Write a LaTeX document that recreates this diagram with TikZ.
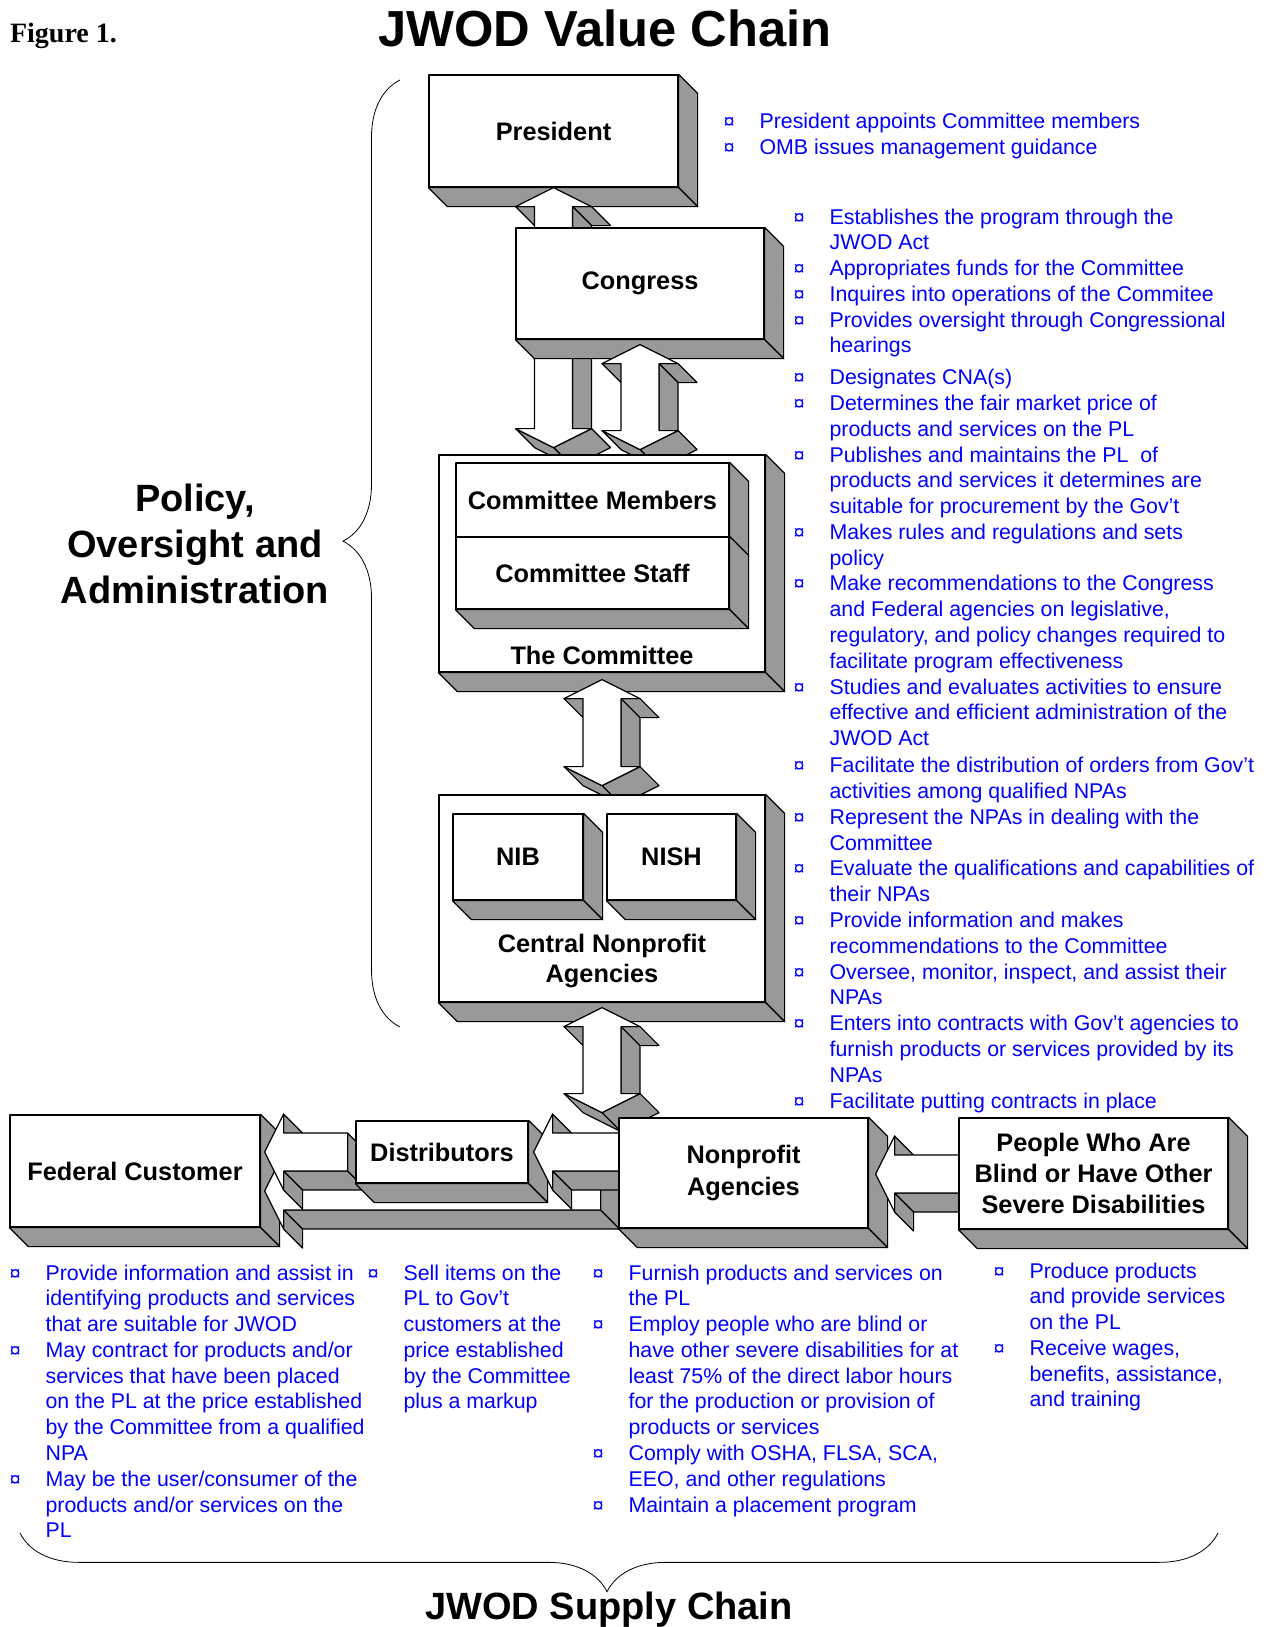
\documentclass[tikz,border=0pt]{standalone}
\usepackage{fontspec}
\setmainfont{Liberation Sans}
\newfontfamily\seriffont{Liberation Serif}
\usetikzlibrary{calc,fit,decorations.pathreplacing}

\definecolor{sidegray}{RGB}{153,153,153}
\definecolor{noteblue}{RGB}{0,0,255}

\tikzstyle{face}=[draw=black,fill=white,line join=round]
\tikzstyle{side}=[draw=black,fill=sidegray,line join=round]
\tikzstyle{box}=[face,inner sep=0pt]
\tikzstyle{boxtext}=[inner sep=0pt,align=center,font=\bfseries\fontsize{19}{22.5}\selectfont]
\tikzstyle{notes}=[inner sep=0pt,anchor=base west,text=noteblue,font=\fontsize{16}{19.34}\selectfont]
\tikzstyle{curly}=[decorate,line width=0.6pt]

% depth of the solid look
\newcommand{\dep}{19}
\newcommand{\bul}{{\fontsize{15}{15}\selectfont ¤}}

% right and bottom faces of a box node
\newcommand{\sides}[1]{%
  \filldraw[side] (#1.north east) -- ++(\dep,\dep) -- ($(#1.south east)+(\dep,\dep)$) -- (#1.south east) -- cycle;
  \filldraw[side] (#1.south west) -- ++(\dep,\dep) -- ($(#1.south east)+(\dep,\dep)$) -- (#1.south east) -- cycle;}

% side faces of a block arrow, one per edge
\newcommand{\facets}[1]{%
  \foreach \p/\q in {#1}
    \filldraw[side] (\p) -- (\q) -- ($(\q)+(\dep,\dep)$) -- ($(\p)+(\dep,\dep)$) -- cycle;}

% block arrows: up, down, both ways, to the left
\newcommand{\arrowup}[2]{%
  \coordinate (u1) at (#1);
  \coordinate (u2) at ($(#1)+(38,19)$);
  \coordinate (u3) at ($(#1)+(19,19)$);
  \coordinate (u4) at ($(#2)+(19,0)$);
  \coordinate (u5) at ($(#2)+(-19,0)$);
  \coordinate (u6) at ($(#1)+(-19,19)$);
  \coordinate (u7) at ($(#1)+(-38,19)$);
  \facets{u2/u3,u3/u4,u4/u5,u6/u7}
  \filldraw[face] (u1) -- (u2) -- (u3) -- (u4) -- (u5) -- (u6) -- (u7) -- cycle;}

\newcommand{\arrowdown}[2]{%
  \coordinate (d1) at ($(#1)+(-19,0)$);
  \coordinate (d2) at ($(#1)+(19,0)$);
  \coordinate (d3) at ($(#2)+(19,-19)$);
  \coordinate (d4) at ($(#2)+(38,-19)$);
  \coordinate (d5) at (#2);
  \coordinate (d6) at ($(#2)+(-38,-19)$);
  \coordinate (d7) at ($(#2)+(-19,-19)$);
  \facets{d2/d3,d4/d5,d5/d6}
  \filldraw[face] (d1) -- (d2) -- (d3) -- (d4) -- (d5) -- (d6) -- (d7) -- cycle;}

\newcommand{\arrowboth}[2]{%
  \coordinate (a1) at (#1);
  \coordinate (a2) at ($(#1)+(38,19)$);
  \coordinate (a3) at ($(#1)+(19,19)$);
  \coordinate (a4) at ($(#2)+(19,-19)$);
  \coordinate (a5) at ($(#2)+(38,-19)$);
  \coordinate (a6) at (#2);
  \coordinate (a7) at ($(#2)+(-38,-19)$);
  \coordinate (a8) at ($(#2)+(-19,-19)$);
  \coordinate (a9) at ($(#1)+(-19,19)$);
  \coordinate (a10) at ($(#1)+(-38,19)$);
  \facets{a2/a3,a3/a4,a5/a6,a6/a7,a9/a10}
  \filldraw[face] (a1) -- (a2) -- (a3) -- (a4) -- (a5) -- (a6) -- (a7) -- (a8) -- (a9) -- (a10) -- cycle;}

\newcommand{\arrowleft}[2]{%
  \coordinate (l1) at (#1);
  \coordinate (l2) at ($(#1)+(19,-38)$);
  \coordinate (l3) at ($(#1)+(19,-19)$);
  \coordinate (l4) at ($(#2)+(0,-19)$);
  \coordinate (l5) at ($(#2)+(0,19)$);
  \coordinate (l6) at ($(#1)+(19,19)$);
  \coordinate (l7) at ($(#1)+(19,38)$);
  \facets{l2/l3,l4/l5,l5/l6,l6/l7}
  \filldraw[face] (l1) -- (l2) -- (l3) -- (l4) -- (l5) -- (l6) -- (l7) -- cycle;}

\begin{document}
\begin{tikzpicture}[x=0.75pt,y=-0.75pt,line width=0.9pt]

\useasboundingbox (0,0) rectangle (1269,1627);
\fill[white] (0,0) rectangle (1269,1627);

\node[anchor=base west,font=\seriffont\bfseries\fontsize{21}{25}\selectfont] (fig) at (5,43) {Figure 1.};
\node[anchor=base,font=\bfseries\fontsize{38}{44}\selectfont] (title) at (605,47) {JWOD Value Chain};

% % % policy column % % %

\node[box,fit={(429,75) (678,187)},label={[boxtext]center:President}] (pres) {};
\sides{pres}

\coordinate (ibot) at ($(pres.south)+(0,96)$);
\coordinate (gtip) at ($(pres.south)+(0,260)$);
\arrowup{pres.south}{ibot}
\arrowdown{ibot}{gtip}

\node[box,fit={(516,228) (764,339)},label={[boxtext]center:Congress}] (cong) {};
\sides{cong}

\coordinate (htop) at ($(cong.south)+(0,5)$);
\coordinate (hbot) at ($(cong.south)+(0,110)$);
\arrowboth{htop}{hbot}

\node[box,fit={(439,455) (765,672)}] (comm) {};
\sides{comm}
\node[box,fit={(456,463) (729,537)},label={[boxtext]center:Committee Members}] (memb) {};
\sides{memb}
\node[box,fit={(456,537) (729,609)},label={[boxtext]center:Committee Staff}] (staff) {};
\sides{staff}
\node[boxtext] (commname) at ($(comm.south)+(0,-17)$) {The Committee};

\coordinate (ftop) at ($(comm.south)+(0,7)$);
\coordinate (fbot) at ($(comm.south)+(0,113)$);
\arrowboth{ftop}{fbot}

\node[box,fit={(439,795) (765,1002)}] (cna) {};
\sides{cna}
\node[box,fit={(453,814) (583,900)},label={[boxtext]center:NIB}] (nib) {};
\sides{nib}
\node[box,fit={(607,814) (736,900)},label={[boxtext]center:NISH}] (nish) {};
\sides{nish}
\node[boxtext] (cnaname) at ($(cna.south)+(0,-42)$) {Central Nonprofit\\Agencies};

\coordinate (etop) at ($(cna.south)+(0,5)$);
\coordinate (ebot) at ($(cna.south)+(0,110)$);
\arrowboth{etop}{ebot}

% % % supply row % % %

\node[box,fit={(10,1115) (260,1227)},label={[boxtext]center:Federal Customer}] (fed) {};
\sides{fed}

\coordinate (btip) at ($(fed.east)+(4,20)$);
\coordinate (bend) at ($(btip)+(336,0)$);
\arrowleft{btip}{bend}
\coordinate (atip) at ($(fed.east)+(4,-19)$);
\coordinate (aend) at ($(atip)+(83,0)$);
\arrowleft{atip}{aend}

\node[box,fit={(356,1121) (528,1183)},label={[boxtext]center:Distributors}] (dist) {};
\sides{dist}

\coordinate (ctip) at ($(dist.east)+(5,0)$);
\coordinate (cend) at ($(ctip)+(200,0)$);
\arrowleft{ctip}{cend}

\node[box,fit={(619,1118) (868,1228)},label={[boxtext,font=\bfseries\fontsize{19}{23.5}\selectfont]center:Nonprofit\\Agencies}] (npa) {};
\sides{npa}

\coordinate (dtip) at ($(npa.east)+(7,1)$);
\coordinate (dend) at ($(dtip)+(200,0)$);
\arrowleft{dtip}{dend}

\node[box,fit={(959,1118) (1228,1229)},label={[boxtext,font=\bfseries\fontsize{19}{23.5}\selectfont]center:People Who Are\\Blind or Have Other\\Severe Disabilities}] (people) {};
\sides{people}

% % % notes % % %

\node[notes] (presnotes) at (723,128.5) {\begin{tabular}[t]{@{}p{27pt}@{}l@{}}
\bul & President appoints Committee members\\
\bul & OMB issues management guidance
\end{tabular}};

\node[notes] (congnotes) at (793,224) {\begin{tabular}[t]{@{}p{27pt}@{}l@{}}
\bul & Establishes the program through the\\
 & JWOD Act\\
\bul & Appropriates funds for the Committee\\
\bul & Inquires into operations of the Commitee\\
\bul & Provides oversight through Congressional\\
 & hearings
\end{tabular}};

\node[notes] (commnotes) at (793,384.7) {\begin{tabular}[t]{@{}p{27pt}@{}l@{}}
\bul & Designates CNA(s)\\
\bul & Determines the fair market price of\\
 & products and services on the PL\\
\bul & Publishes and maintains the PL\ \ of\\
 & products and services it determines are\\
 & suitable for procurement by the Gov't\\
\bul & Makes rules and regulations and sets\\
 & policy\\
\bul & Make recommendations to the Congress\\
 & and Federal agencies on legislative,\\
 & regulatory, and policy changes required to\\
 & facilitate program effectiveness\\
\bul & Studies and evaluates activities to ensure\\
 & effective and efficient administration of the\\
 & JWOD Act
\end{tabular}};

\node[notes] (cnanotes) at (793,772.8) {\begin{tabular}[t]{@{}p{27pt}@{}l@{}}
\bul & Facilitate the distribution of orders from Gov't\\
 & activities among qualified NPAs\\
\bul & Represent the NPAs in dealing with the\\
 & Committee\\
\bul & Evaluate the qualifications and capabilities of\\
 & their NPAs\\
\bul & Provide information and makes\\
 & recommendations to the Committee\\
\bul & Oversee, monitor, inspect, and assist their\\
 & NPAs\\
\bul & Enters into contracts with Gov't agencies to\\
 & furnish products or services provided by its\\
 & NPAs\\
\bul & Facilitate putting contracts in place
\end{tabular}};

\node[notes] (fednotes) at (9,1280) {\begin{tabular}[t]{@{}p{27pt}@{}l@{}}
\bul & Provide information and assist in\\
 & identifying products and services\\
 & that are suitable for JWOD\\
\bul & May contract for products and/or\\
 & services that have been placed\\
 & on the PL at the price established\\
 & by the Committee from a qualified\\
 & NPA\\
\bul & May be the user/consumer of the\\
 & products and/or services on the\\
 & PL
\end{tabular}};

\node[notes] (distnotes) at (367,1280) {\begin{tabular}[t]{@{}p{27pt}@{}l@{}}
\bul & Sell items on the\\
 & PL to Gov't\\
 & customers at the\\
 & price established\\
 & by the Committee\\
 & plus a markup
\end{tabular}};

\node[notes] (npanotes) at (592,1280) {\begin{tabular}[t]{@{}p{27pt}@{}l@{}}
\bul & Furnish products and services on\\
 & the PL\\
\bul & Employ people who are blind or\\
 & have other severe disabilities for at\\
 & least 75\% of the direct labor hours\\
 & for the production or provision of\\
 & products or services\\
\bul & Comply with OSHA, FLSA, SCA,\\
 & EEO, and other regulations\\
\bul & Maintain a placement program
\end{tabular}};

\node[notes] (peoplenotes) at (993,1278) {\begin{tabular}[t]{@{}p{27pt}@{}l@{}}
\bul & Produce products\\
 & and provide services\\
 & on the PL\\
\bul & Receive wages,\\
 & benefits, assistance,\\
 & and training
\end{tabular}};

% % % braces % % %

\draw[curly,decoration={brace,amplitude=42.75pt,aspect=0.513}] (400,1027) -- (400,80);
\node[align=center,font=\bfseries\fontsize{28.5}{34.5}\selectfont] (policy) at (195,544) {Policy,\\Oversight and\\Administration};

\draw[curly,decoration={brace,amplitude=44pt,aspect=0.51}] (1218,1533) -- (20,1533);
\node[anchor=base,font=\bfseries\fontsize{28.5}{34}\selectfont] (supply) at (609,1619) {JWOD Supply Chain};

\end{tikzpicture}
\end{document}
